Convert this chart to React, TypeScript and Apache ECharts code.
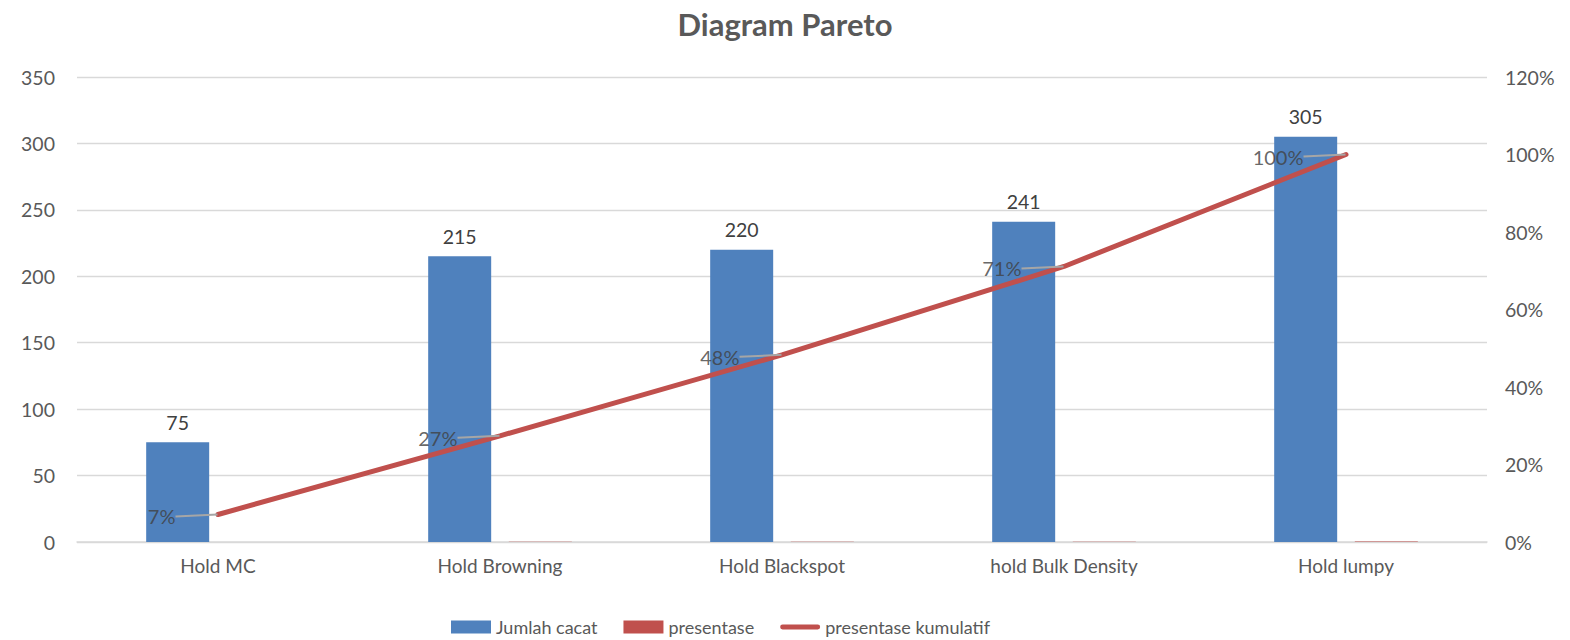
import React, { useEffect, useRef } from "react";
import * as echarts from "echarts";

const categories = ["Hold MC", "Hold Browning", "Hold Blackspot", "hold Bulk Density", "Hold lumpy"];
const jumlahCacat = [75, 215, 220, 241, 305];
const presentase = [0.071, 0.204, 0.208, 0.228, 0.289];
const kumulatif = [0.071, 0.274, 0.483, 0.711, 1.0];
const leftTicks = { min: 0, max: 350, interval: 50 };
const rightTicks = { min: 0, max: 1.2, interval: 0.2 };

const FONT = "Lato, 'Open Sans', sans-serif";

export default function App() {
  const ref = useRef<HTMLDivElement>(null);
  useEffect(() => {
    if (!ref.current) return;
    const chart = echarts.init(ref.current, undefined, { renderer: "svg" });
    chart.setOption({
      animation: false,
      textStyle: { fontFamily: FONT },
      title: {
        text: "Diagram Pareto",
        left: "center",
        top: 3,
        textStyle: { fontSize: 31, fontWeight: "bold", color: "#595959", fontFamily: FONT },
      },
      grid: { left: 77, right: 83, top: 77, bottom: 98 },
      legend: {
        bottom: -1,
        left: 446,
        itemGap: 26,
        itemWidth: 40,
        itemHeight: 13,
        textStyle: { fontSize: 18, color: "#595959", fontFamily: FONT },
        data: [
          { name: "Jumlah cacat", icon: "rect" },
          { name: "presentase", icon: "rect" },
          { name: "presentase kumulatif", icon: "path://M2,0 H38 A2.5,2.5 0 0 1 38,5 H2 A2.5,2.5 0 0 1 2,0 Z" },
        ],
      },
      xAxis: {
        type: "category",
        data: categories,
        axisLine: { lineStyle: { color: "#D9D9D9", width: 1.5 } },
        axisTick: { show: false },
        axisLabel: { fontSize: 19, color: "#595959", margin: 14, fontFamily: FONT },
      },
      yAxis: [
        {
          type: "value",
          min: leftTicks.min,
          max: leftTicks.max,
          interval: leftTicks.interval,
          axisLine: { show: false },
          axisTick: { show: false },
          splitLine: { lineStyle: { color: "#D9D9D9", width: 1.3 } },
          axisLabel: { fontSize: 19.5, color: "#595959", margin: 22, fontFamily: FONT },
        },
        {
          type: "value",
          min: rightTicks.min,
          max: rightTicks.max,
          interval: rightTicks.interval,
          axisLine: { show: false },
          axisTick: { show: false },
          splitLine: { show: false },
          axisLabel: {
            fontSize: 19.5,
            color: "#595959",
            margin: 18,
            fontFamily: FONT,
            formatter: (v: number) => Math.round(v * 100) + "%",
          },
        },
      ],
      series: [
        {
          name: "Jumlah cacat",
          type: "bar",
          data: jumlahCacat,
          barWidth: 63,
          barGap: "28%",
          itemStyle: { color: "#4F81BD" },
          label: { show: true, position: "top", distance: 10, fontSize: 19.5, color: "#404040", fontFamily: FONT },
        },
        {
          name: "presentase",
          type: "bar",
          data: presentase,
          barWidth: 63,
          itemStyle: { color: "#C0504D" },
        },
        {
          name: "presentase kumulatif",
          type: "line",
          yAxisIndex: 1,
          data: kumulatif,
          symbol: "none",
          lineStyle: { color: "#C0504D", width: 5, cap: "round" },
          itemStyle: { color: "#C0504D" },
          z: 5,
        },
        {
          name: "label kumulatif",
          type: "scatter",
          yAxisIndex: 1,
          data: kumulatif,
          symbolSize: 1,
          itemStyle: { color: "rgba(0,0,0,0)" },
          z: 6,
          label: {
            show: true,
            position: "left",
            distance: 4,
            fontSize: 20,
            color: "#404040",
            fontFamily: FONT,
            padding: [0, 8, 0, 0],
            formatter: (p: any) => Math.round(p.value * 100) + "%",
          },
          labelLayout: { dx: -30, dy: 2 },
          labelLine: { show: true, lineStyle: { color: "#A6A6A6", width: 2 } },
        },
      ],
    });
    return () => chart.dispose();
  }, []);
  return (
    <div
      ref={ref}
      style={{ position: "fixed", left: 0, top: 0, width: 1570, height: 640, background: "#fff" }}
    />
  );
}
